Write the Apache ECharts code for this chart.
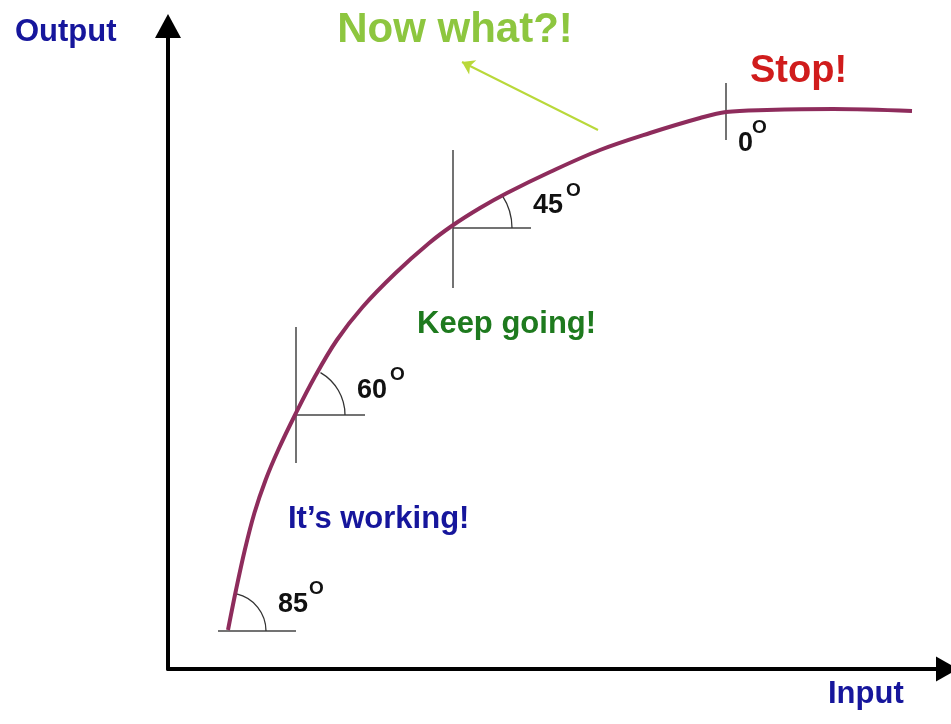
<!DOCTYPE html>
<html>
<head>
<meta charset="utf-8">
<title>Input / Output</title>
<script src="https://cdn.jsdelivr.net/npm/echarts@6/dist/echarts.min.js"></script>
<style>
  html, body { margin: 0; padding: 0; background: #fff; }
  #chart { width: 951px; height: 724px; }
</style>
</head>
<body>
<div id="chart"></div>
<script>
// curve (units: input / output)
const curveX = [6.00, 6.80, 7.68, 8.64, 9.76, 11.02, 12.75, 14.67, 16.89, 19.46, 22.76, 26.12, 28.45, 31.20, 33.90, 38.20, 43.20, 48.20, 53.20, 55.80, 59.90, 66.50, 74.40]
const curveY = [3.90, 7.90, 11.90, 15.60, 18.90, 21.90, 25.50, 29.20, 32.90, 36.20, 39.60, 42.60, 44.35, 46.10, 47.60, 49.70, 51.90, 53.60, 55.10, 55.70, 55.90, 56.00, 55.80]

// tangent guide segments [[x1,y1],[x2,y2]]
const guideSegs = [
  [[5.0, 3.8], [12.8, 3.8]],
  [[12.8, 25.4], [19.7, 25.4]],
  [[12.8, 20.6], [12.8, 34.2]],
  [[28.5, 44.1], [36.3, 44.1]],
  [[28.5, 38.1], [28.5, 51.9]],
  [[55.8, 52.9], [55.8, 58.6]]
]
// angle arcs: centre x, centre y, radius, end angle (deg)
const arcs = [
  [6.0, 3.8, 3.8, 77],
  [12.8, 25.4, 4.9, 60],
  [28.5, 44.1, 5.9, 33]
]
const arrowSeg = [[43.0, 53.9], [29.4, 60.7]]

const angleLabels = ['85', '60', '45', '0']

const font = '"Liberation Sans", Arial, sans-serif'
const myChart = echarts.init(document.getElementById('chart'))

function txt(text, x, y, size, color, align) {
  return {
    type: 'text', x: x, y: y, silent: true,
    style: {
      text: text, fill: color, fontSize: size, fontWeight: 'bold',
      fontFamily: font, align: align || 'left', verticalAlign: 'middle'
    }
  }
}

const axisCommon = {
  type: 'value', min: 0,
  axisTick: { show: false }, axisLabel: { show: false }, splitLine: { show: false }
}

myChart.setOption({
  animation: false,
  backgroundColor: '#fff',
  grid: { left: 168, right: 4, top: 26, bottom: 55 },
  xAxis: Object.assign({}, axisCommon, {
    max: 77.9,
    axisLine: { show: true, onZero: false, symbol: ['none', 'triangle'], symbolSize: [25, 22], lineStyle: { color: '#000', width: 4 } }
  }),
  yAxis: Object.assign({}, axisCommon, {
    max: 64.3,
    axisLine: { show: true, onZero: false, symbol: ['none', 'triangle'], symbolSize: [26, 24], lineStyle: { color: '#000', width: 4 } }
  }),
  series: [
    {
      type: 'lines', coordinateSystem: 'cartesian2d', silent: true,
      data: guideSegs.map(s => ({ coords: s })),
      lineStyle: { color: '#444', width: 1.5, opacity: 1 },
      symbol: 'none'
    },
    {
      type: 'custom', silent: true,
      data: arcs,
      renderItem: function (params, api) {
        const c = api.coord([api.value(0), api.value(1)])
        const r = api.size([api.value(2), 0])[0]
        return {
          type: 'arc',
          shape: { cx: c[0], cy: c[1], r: r, startAngle: 0, endAngle: -api.value(3) * Math.PI / 180, clockwise: false },
          style: { fill: 'none', stroke: '#333', lineWidth: 1.3 }
        }
      }
    },
    {
      type: 'line', silent: true,
      data: curveX.map((x, i) => [x, curveY[i]]),
      smooth: 0.35, showSymbol: false,
      lineStyle: { color: '#8e2c5c', width: 4 },
      z: 5
    },
    {
      type: 'lines', coordinateSystem: 'cartesian2d', silent: true,
      data: [{ coords: arrowSeg }],
      lineStyle: { color: '#b9d83a', width: 2, opacity: 1 },
      symbol: ['none', 'arrow'], symbolSize: 12
    }
  ],
  graphic: [
    txt('Output', 15, 32, 31, '#16169c'),
    txt('Input', 828, 694, 31, '#16169c'),
    txt('Now what?!', 455, 30, 42, '#8dc63f', 'center'),
    txt('Stop!', 750, 72, 38, '#d01c1c'),
    txt('Keep going!', 417, 324, 31, '#1e7a1e'),
    txt('It\u2019s working!', 288, 519, 31, '#16169c'),
    txt(angleLabels[0], 278, 605, 27, '#111'),
    txt('O', 309, 589, 19, '#111'),
    txt(angleLabels[1], 357, 391, 27, '#111'),
    txt('O', 390, 375, 19, '#111'),
    txt(angleLabels[2], 533, 206, 27, '#111'),
    txt('O', 566, 191, 19, '#111'),
    txt(angleLabels[3], 738, 144, 27, '#111'),
    txt('O', 752, 128, 19, '#111')
  ]
})
</script>
</body>
</html>
